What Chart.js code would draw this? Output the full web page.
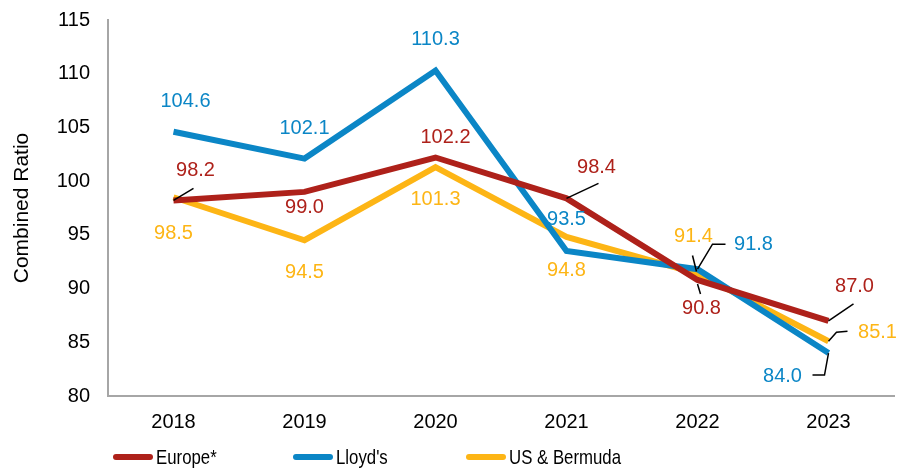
<!DOCTYPE html>
<html>
<head>
<meta charset="utf-8">
<script src="https://cdn.jsdelivr.net/npm/chart.js@4.4.1/dist/chart.umd.min.js"></script>
<style>
  html, body { margin: 0; padding: 0; background: #fff; }
  #wrap { width: 909px; height: 470px; }
</style>
</head>
<body>
<div id="wrap"><canvas id="ratioChart"></canvas></div>
<script>
const years = ['2018', '2019', '2020', '2021', '2022', '2023'];
const europe = [98.2, 99.0, 102.2, 98.4, 90.8, 87.0];
const lloyds = [104.6, 102.1, 110.3, 93.5, 91.8, 84.0];
const usBermuda = [98.5, 94.5, 101.3, 94.8, 91.4, 85.1];

// label placement relative to each point: [dx, dy, leader polyline or null]
const europeLabels = [
    [22, -30, [[0, 0], [20, -12]]],
    [0, 16, null],
    [10, -20, null],
    [30, -31, [[0, 0], [32, -15]]],
    [4, 29, [[0, 4], [3, 14]]],
    [26, -34, [[0, 0], [25, -17]]]
];
const lloydsLabels = [
    [12, -30, null],
    [0, -30, null],
    [0, -31, null],
    [0, -31, null],
    [56, -25, [[0, 0], [15, -25], [28, -25]]],
    [-46, 23, [[0, 0], [-4, 22], [-16, 22]]]
];
const usLabels = [
    [0, 36, null],
    [0, 32, null],
    [0, 32, null],
    [0, 33, null],
    [-4, -37, [[-1, -2], [-5, -18]]],
    [49, -9, [[0, 0], [8, -9], [19, -10]]]
];

const fontFamily = "'Liberation Sans', Arial, sans-serif";

const pointLabels = {
    id: 'pointLabels',
    afterDatasetsDraw(chart) {
        const ctx = chart.ctx;
        ctx.save();
        chart.data.datasets.forEach((ds, i) => {
            const meta = chart.getDatasetMeta(i);
            meta.data.forEach((pt, j) => {
                const [dx, dy, leader] = ds.labelPos[j];
                if (leader) {
                    ctx.strokeStyle = '#000';
                    ctx.lineWidth = 1.5;
                    ctx.beginPath();
                    leader.forEach(([lx, ly], k) => {
                        if (k === 0) ctx.moveTo(pt.x + lx, pt.y + ly);
                        else ctx.lineTo(pt.x + lx, pt.y + ly);
                    });
                    ctx.stroke();
                }
                ctx.fillStyle = ds.borderColor;
                ctx.font = '20px ' + fontFamily;
                ctx.textAlign = 'center';
                ctx.textBaseline = 'middle';
                ctx.fillText(ds.data[j].toFixed(1), pt.x + dx, pt.y + dy);
            });
        });
        ctx.restore();
    }
};

// legend in the original is set in a condensed face; squeeze the text horizontally
const lineLegend = {
    id: 'lineLegend',
    afterDraw(chart) {
        const ctx = chart.ctx;
        const starts = [113, 293, 466];
        const y = 457;
        chart.data.datasets.forEach((ds, i) => {
            const x = starts[i];
            ctx.save();
            ctx.strokeStyle = ds.borderColor;
            ctx.lineWidth = 6;
            ctx.lineCap = 'round';
            ctx.beginPath();
            ctx.moveTo(x + 3, y);
            ctx.lineTo(x + 37, y);
            ctx.stroke();
            ctx.translate(x + 43, y + 1);
            ctx.scale(0.8, 1);
            ctx.fillStyle = '#000';
            ctx.font = '21px ' + fontFamily;
            ctx.textAlign = 'left';
            ctx.textBaseline = 'middle';
            ctx.fillText(ds.label, 0, 0);
            ctx.restore();
        });
    }
};

const ctx = document.getElementById('ratioChart').getContext('2d');
new Chart(ctx, {
    type: 'line',
    data: {
        labels: years,
        datasets: [
            { label: 'Europe*', data: europe, borderColor: '#AE211A', labelPos: europeLabels },
            { label: "Lloyd's", data: lloyds, borderColor: '#0B86C6', labelPos: lloydsLabels },
            { label: 'US & Bermuda', data: usBermuda, borderColor: '#FDB515', labelPos: usLabels }
        ].map(d => Object.assign(d, {
            borderWidth: 6,
            pointRadius: 0,
            tension: 0,
            fill: false,
            borderJoinStyle: 'miter'
        }))
    },
    options: {
        responsive: true,
        maintainAspectRatio: false,
        animation: false,
        layout: { padding: { top: 20, right: 15, bottom: 36, left: 0 } },
        plugins: {
            legend: { display: false },
            tooltip: { enabled: false }
        },
        scales: {
            x: {
                offset: true,
                grid: { display: false, drawTicks: false },
                border: { color: '#A6A6A6', width: 2 },
                ticks: { color: '#000', font: { size: 20, family: fontFamily }, padding: 14, maxRotation: 0 },
                afterFit: s => { s.height = 38; s.paddingLeft = 0; s.paddingRight = 0; }
            },
            y: {
                min: 80,
                max: 115,
                grid: { display: false, drawTicks: false },
                border: { color: '#A6A6A6', width: 2 },
                ticks: { stepSize: 5, color: '#000', font: { size: 20, family: fontFamily }, padding: 18 },
                title: {
                    display: true,
                    text: 'Combined Ratio',
                    color: '#000',
                    font: { size: 21, family: fontFamily },
                    padding: { top: 10, bottom: 0 }
                },
                afterFit: s => { s.width = 108; s.paddingTop = 0; s.paddingBottom = 0; }
            }
        }
    },
    plugins: [pointLabels, lineLegend]
});
</script>
</body>
</html>
